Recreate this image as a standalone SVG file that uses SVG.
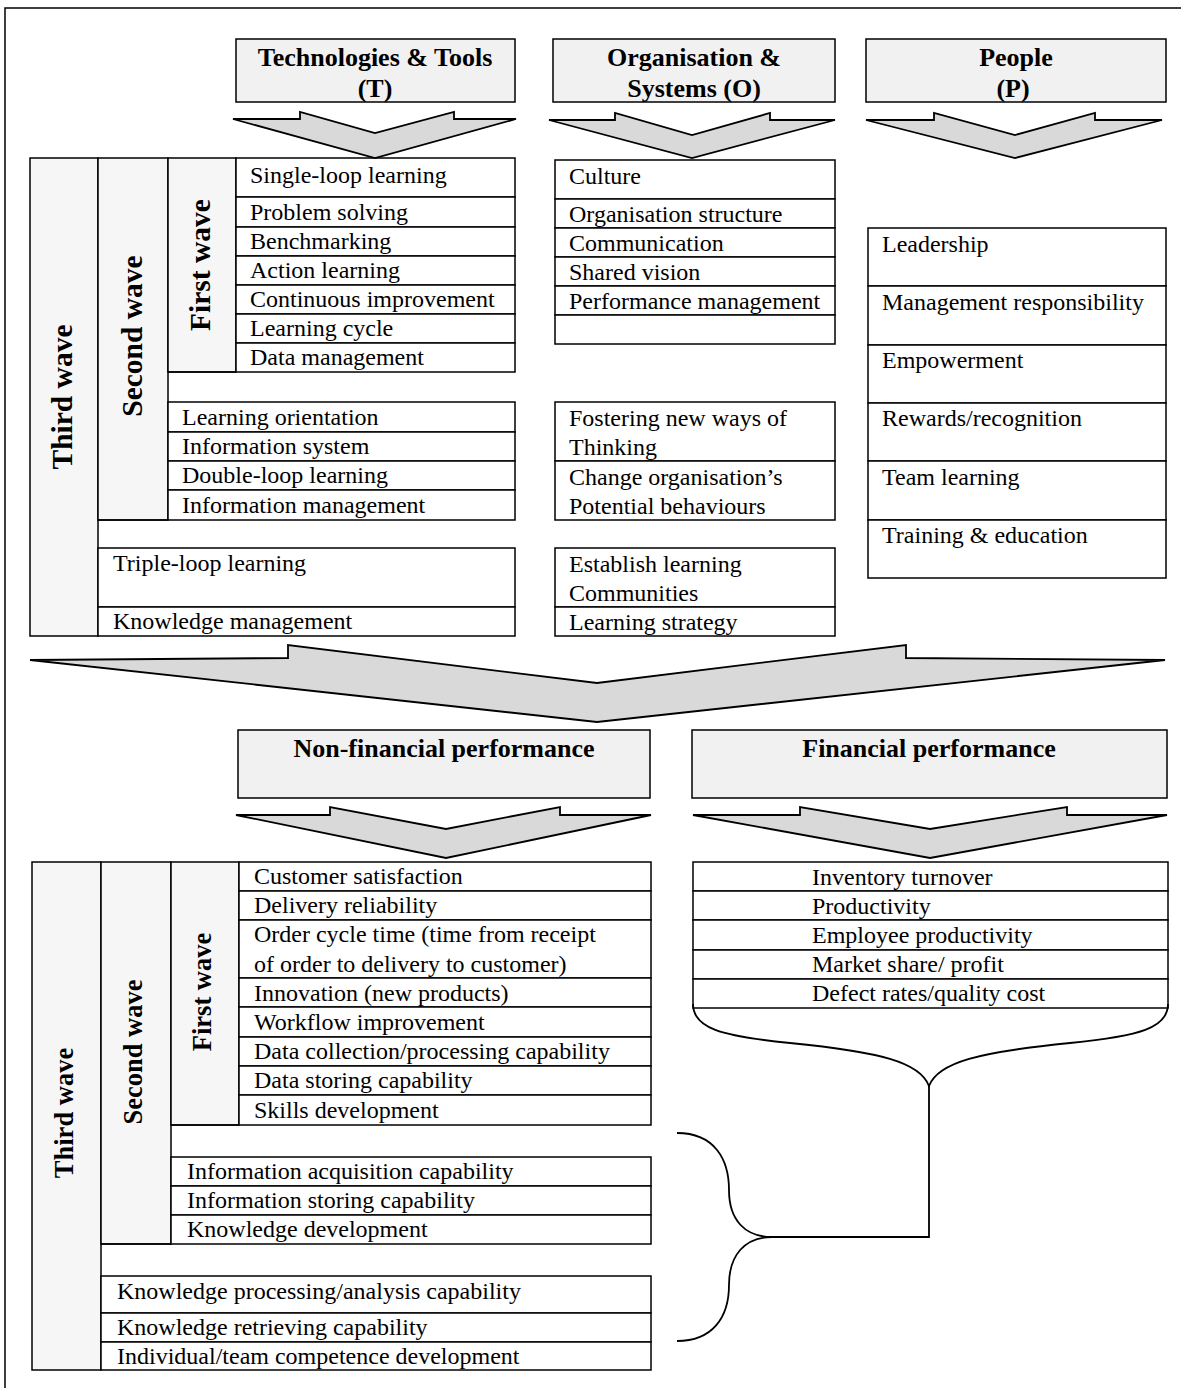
<svg xmlns="http://www.w3.org/2000/svg" width="1181" height="1388" viewBox="0 0 1181 1388">
<style>
.bg{fill:#fff}
.frame{fill:none;stroke:#000;stroke-width:1.5}
.box{fill:#fff;stroke:#000;stroke-width:1.5}
.hdr{fill:#f1f1f1;stroke:#000;stroke-width:1.5}
.wave{fill:#f6f6f6;stroke:#000;stroke-width:1.5}
.arr{fill:#d9d9d9;stroke:#000;stroke-width:1.8;stroke-linejoin:miter}
.ln{fill:none;stroke:#000;stroke-width:1.8}
text{font-family:"Liberation Serif","Times New Roman",serif;fill:#000}
.t{font-size:24px}
.h{font-size:26px;font-weight:bold;text-anchor:middle}
.w{font-size:29.5px;font-weight:bold;text-anchor:middle}
.w2{font-size:26.5px;font-weight:bold;text-anchor:middle}
</style>
<rect class="bg" x="0" y="0" width="1181" height="1388"/>
<path class="frame" d="M5,1388 V8 H1181"/>

<g id="hdr-T"><rect class="hdr" x="236" y="39" width="279" height="63"/>
<text class="h" x="375" y="66">Technologies &amp; Tools</text><text class="h" x="375" y="97">(T)</text></g>
<g id="hdr-O"><rect class="hdr" x="553" y="39" width="282" height="63"/>
<text class="h" x="694" y="66">Organisation &amp;</text><text class="h" x="694" y="97">Systems (O)</text></g>
<g id="hdr-P"><rect class="hdr" x="866" y="39" width="300" height="63"/>
<text class="h" x="1016" y="66">People</text><text class="h" x="1013" y="97">(P)</text></g>

<g id="T-block">
<rect class="wave" x="30" y="158" width="68" height="478"/>
<rect class="wave" x="98" y="158" width="70" height="362"/>
<rect class="wave" x="168" y="158" width="68" height="214"/>
<text class="w" transform="translate(72,397) rotate(-90)">Third wave</text>
<text class="w" transform="translate(142,336) rotate(-90)">Second wave</text>
<text class="w" transform="translate(210,265) rotate(-90)">First wave</text>
<rect class="box" x="236" y="158" width="279" height="39"/><text class="t" x="250" y="183">Single-loop learning</text>
<rect class="box" x="236" y="197" width="279" height="30"/><text class="t" x="250" y="220">Problem solving</text>
<rect class="box" x="236" y="227" width="279" height="29"/><text class="t" x="250" y="249">Benchmarking</text>
<rect class="box" x="236" y="256" width="279" height="29"/><text class="t" x="250" y="278">Action learning</text>
<rect class="box" x="236" y="285" width="279" height="29"/><text class="t" x="250" y="307">Continuous improvement</text>
<rect class="box" x="236" y="314" width="279" height="29"/><text class="t" x="250" y="336">Learning cycle</text>
<rect class="box" x="236" y="343" width="279" height="29"/><text class="t" x="250" y="365">Data management</text>
<path class="frame" d="M168,372 H236"/>
<rect class="box" x="168" y="402" width="347" height="30"/><text class="t" x="182" y="425">Learning orientation</text>
<rect class="box" x="168" y="432" width="347" height="29"/><text class="t" x="182" y="454">Information system</text>
<rect class="box" x="168" y="461" width="347" height="29"/><text class="t" x="182" y="483">Double-loop learning</text>
<rect class="box" x="168" y="490" width="347" height="30"/><text class="t" x="182" y="513">Information management</text>
<path class="frame" d="M98,520 H168"/>
<rect class="box" x="98" y="548" width="417" height="59"/><text class="t" x="113" y="571">Triple-loop learning</text>
<rect class="box" x="98" y="607" width="417" height="29"/><text class="t" x="113" y="629">Knowledge management</text>
</g>

<g id="O-block">
<rect class="box" x="555" y="160" width="280" height="39"/><text class="t" x="569" y="184">Culture</text>
<rect class="box" x="555" y="199" width="280" height="29"/><text class="t" x="569" y="222">Organisation structure</text>
<rect class="box" x="555" y="228" width="280" height="29"/><text class="t" x="569" y="251">Communication</text>
<rect class="box" x="555" y="257" width="280" height="29"/><text class="t" x="569" y="280">Shared vision</text>
<rect class="box" x="555" y="286" width="280" height="29"/><text class="t" x="569" y="309">Performance management</text>
<rect class="box" x="555" y="315" width="280" height="29"/>
<rect class="box" x="555" y="402" width="280" height="59"/><text class="t" x="569" y="426">Fostering new ways of</text><text class="t" x="569" y="455">Thinking</text>
<rect class="box" x="555" y="461" width="280" height="59"/><text class="t" x="569" y="485">Change organisation’s</text><text class="t" x="569" y="514">Potential behaviours</text>
<rect class="box" x="555" y="548" width="280" height="59"/><text class="t" x="569" y="572">Establish learning</text><text class="t" x="569" y="601">Communities</text>
<rect class="box" x="555" y="607" width="280" height="29"/><text class="t" x="569" y="630">Learning strategy</text>
</g>

<g id="P-block">
<rect class="box" x="868" y="228" width="298" height="58"/><text class="t" x="882" y="252">Leadership</text>
<rect class="box" x="868" y="286" width="298" height="59"/><text class="t" x="882" y="310">Management responsibility</text>
<rect class="box" x="868" y="345" width="298" height="58"/><text class="t" x="882" y="368">Empowerment</text>
<rect class="box" x="868" y="403" width="298" height="58"/><text class="t" x="882" y="426">Rewards/recognition</text>
<rect class="box" x="868" y="461" width="298" height="59"/><text class="t" x="882" y="485">Team learning</text>
<rect class="box" x="868" y="520" width="298" height="58"/><text class="t" x="882" y="543">Training &amp; education</text>
</g>

<g id="hdr-NF"><rect class="hdr" x="238" y="730" width="412" height="68"/>
<text class="h" x="444" y="757">Non-financial performance</text></g>
<g id="hdr-F"><rect class="hdr" x="692" y="730" width="475" height="68"/>
<text class="h" x="929" y="757">Financial performance</text></g>

<g id="NF-block">
<rect class="wave" x="32" y="862" width="69" height="508"/>
<rect class="wave" x="101" y="862" width="70" height="382"/>
<rect class="wave" x="171" y="862" width="68" height="263"/>
<text class="w2" transform="translate(73,1113) rotate(-90)">Third wave</text>
<text class="w2" transform="translate(142,1052) rotate(-90)">Second wave</text>
<text class="w2" transform="translate(211,992) rotate(-90)">First wave</text>
<rect class="box" x="239" y="862" width="412" height="29"/><text class="t" x="254" y="884">Customer satisfaction</text>
<rect class="box" x="239" y="891" width="412" height="29"/><text class="t" x="254" y="913">Delivery reliability</text>
<rect class="box" x="239" y="920" width="412" height="58"/><text class="t" x="254" y="942">Order cycle time (time from receipt</text><text class="t" x="254" y="972">of order to delivery to customer)</text>
<rect class="box" x="239" y="978" width="412" height="29"/><text class="t" x="254" y="1001">Innovation (new products)</text>
<rect class="box" x="239" y="1007" width="412" height="30"/><text class="t" x="254" y="1030">Workflow improvement</text>
<rect class="box" x="239" y="1037" width="412" height="29"/><text class="t" x="254" y="1059">Data collection/processing capability</text>
<rect class="box" x="239" y="1066" width="412" height="29"/><text class="t" x="254" y="1088">Data storing capability</text>
<rect class="box" x="239" y="1095" width="412" height="30"/><text class="t" x="254" y="1118">Skills development</text>
<path class="frame" d="M171,1125 H239"/>
<rect class="box" x="171" y="1157" width="480" height="29"/><text class="t" x="187" y="1179">Information acquisition capability</text>
<rect class="box" x="171" y="1186" width="480" height="29"/><text class="t" x="187" y="1208">Information storing capability</text>
<rect class="box" x="171" y="1215" width="480" height="29"/><text class="t" x="187" y="1237">Knowledge development</text>
<path class="frame" d="M101,1244 H171"/>
<rect class="box" x="101" y="1276" width="550" height="37"/><text class="t" x="117" y="1299">Knowledge processing/analysis capability</text>
<rect class="box" x="101" y="1313" width="550" height="29"/><text class="t" x="117" y="1335">Knowledge retrieving capability</text>
<rect class="box" x="101" y="1342" width="550" height="28"/><text class="t" x="117" y="1364">Individual/team competence development</text>
</g>

<g id="F-block">
<rect class="box" x="693" y="862" width="475" height="29"/><text class="t" x="812" y="885">Inventory turnover</text>
<rect class="box" x="693" y="891" width="475" height="29"/><text class="t" x="812" y="914">Productivity</text>
<rect class="box" x="693" y="920" width="475" height="30"/><text class="t" x="812" y="943">Employee productivity</text>
<rect class="box" x="693" y="950" width="475" height="29"/><text class="t" x="812" y="972">Market share/ profit</text>
<rect class="box" x="693" y="979" width="475" height="29"/><text class="t" x="812" y="1001">Defect rates/quality cost</text>
</g>

<g id="connectors">
<path class="arr" d="M233,119 L300,119 L300,112 L375,133 L454,112 L454,119 L516,119 L375,158 Z"/>
<path class="arr" d="M549,120 L615,120 L615,113 L692,135 L770,113 L770,120 L835,120 L692,158 Z"/>
<path class="arr" d="M866,120 L934,120 L934,113 L1015,135 L1095,113 L1095,120 L1162,120 L1015,158 Z"/>
<path class="arr" d="M30,660 L288,658 L288,645 L597,683 L906,645 L906,658 L1165,660 L597,722 Z"/>
<path class="arr" d="M236,815 L330,815 L330,807 L446,829 L560,807 L560,815 L651,815 L446,858 Z"/>
<path class="arr" d="M693,815 L800,815 L800,807 L930,829 L1067,807 L1067,815 L1167,815 L930,858 Z"/>
<path class="ln" d="M693,1004 C693,1028 720,1036 790,1043 C880,1052 920,1062 929,1086 C938,1062 980,1052 1070,1043 C1140,1036 1168,1028 1168,1004"/>
<path class="ln" d="M929,1086 V1237 H772"/>
<path class="ln" d="M677,1133 C715,1133 729,1160 729,1190 C729,1220 745,1237 772,1237 C745,1237 729,1255 729,1285 C729,1318 712,1341 677,1341"/>
</g>
</svg>
